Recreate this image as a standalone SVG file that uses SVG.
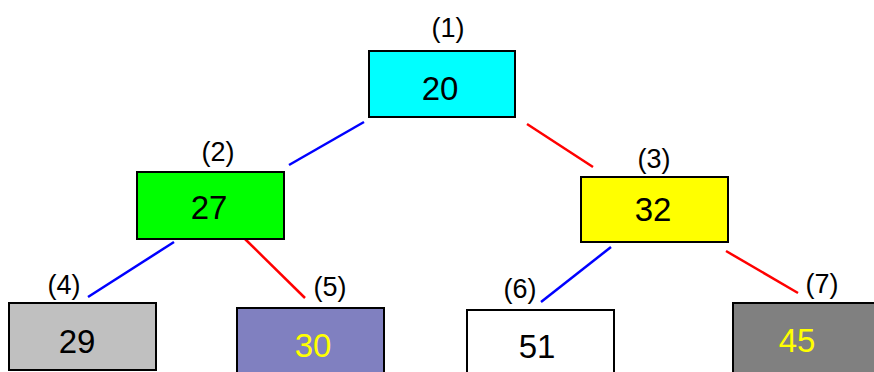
<svg xmlns="http://www.w3.org/2000/svg" width="874" height="372" viewBox="0 0 874 372">
<style>
.box{stroke:#000;stroke-width:2}
.num{font-family:"Liberation Sans",Arial,sans-serif;font-size:33px;text-anchor:middle;fill:#000}
.yel{fill:#FFFF00}
.lbl{font-family:"Liberation Sans",Arial,sans-serif;font-size:27px;text-anchor:middle;fill:#000}
.b{stroke:#0000FF;stroke-width:2.5;fill:none}
.r{stroke:#FF0000;stroke-width:2.5;fill:none}
</style>
<rect width="874" height="372" fill="#fff"/>
<g id="connectors">
<line class="b" x1="364" y1="122" x2="289" y2="165"/>
<line class="r" x1="527" y1="124" x2="593" y2="167"/>
<line class="b" x1="174" y1="242" x2="88" y2="297"/>
<line class="r" x1="245" y1="239" x2="305" y2="298"/>
<line class="b" x1="611" y1="247" x2="541" y2="302"/>
<line class="r" x1="726" y1="251" x2="798" y2="293"/>
</g>
<g id="node1">
<text class="lbl" x="448" y="37">(1)</text>
<rect class="box" x="369" y="51" width="146" height="66" fill="#00FFFF"/>
<text class="num" x="440" y="100">20</text>
</g>
<g id="node2">
<text class="lbl" x="218" y="161">(2)</text>
<rect class="box" x="137" y="172" width="147" height="67" fill="#00FF00"/>
<text class="num" x="209" y="219">27</text>
</g>
<g id="node3">
<text class="lbl" x="654" y="168">(3)</text>
<rect class="box" x="581" y="177" width="147" height="65" fill="#FFFF00"/>
<text class="num" x="653" y="221">32</text>
</g>
<g id="node4">
<text class="lbl" x="64" y="294">(4)</text>
<rect class="box" x="9" y="303" width="147" height="67" fill="#C0C0C0"/>
<text class="num" x="77" y="353">29</text>
</g>
<g id="node5">
<text class="lbl" x="330" y="296">(5)</text>
<rect class="box" x="237" y="308" width="147" height="70" fill="#8080C0"/>
<text class="num yel" x="313" y="357">30</text>
</g>
<g id="node6">
<text class="lbl" x="520" y="298">(6)</text>
<rect class="box" x="467" y="310" width="147" height="70" fill="#FFFFFF"/>
<text class="num" x="537" y="358">51</text>
</g>
<g id="node7">
<text class="lbl" x="822" y="293">(7)</text>
<rect class="box" x="733" y="303" width="150" height="70" fill="#808080"/>
<text class="num yel" x="797" y="352">45</text>
</g>
</svg>
